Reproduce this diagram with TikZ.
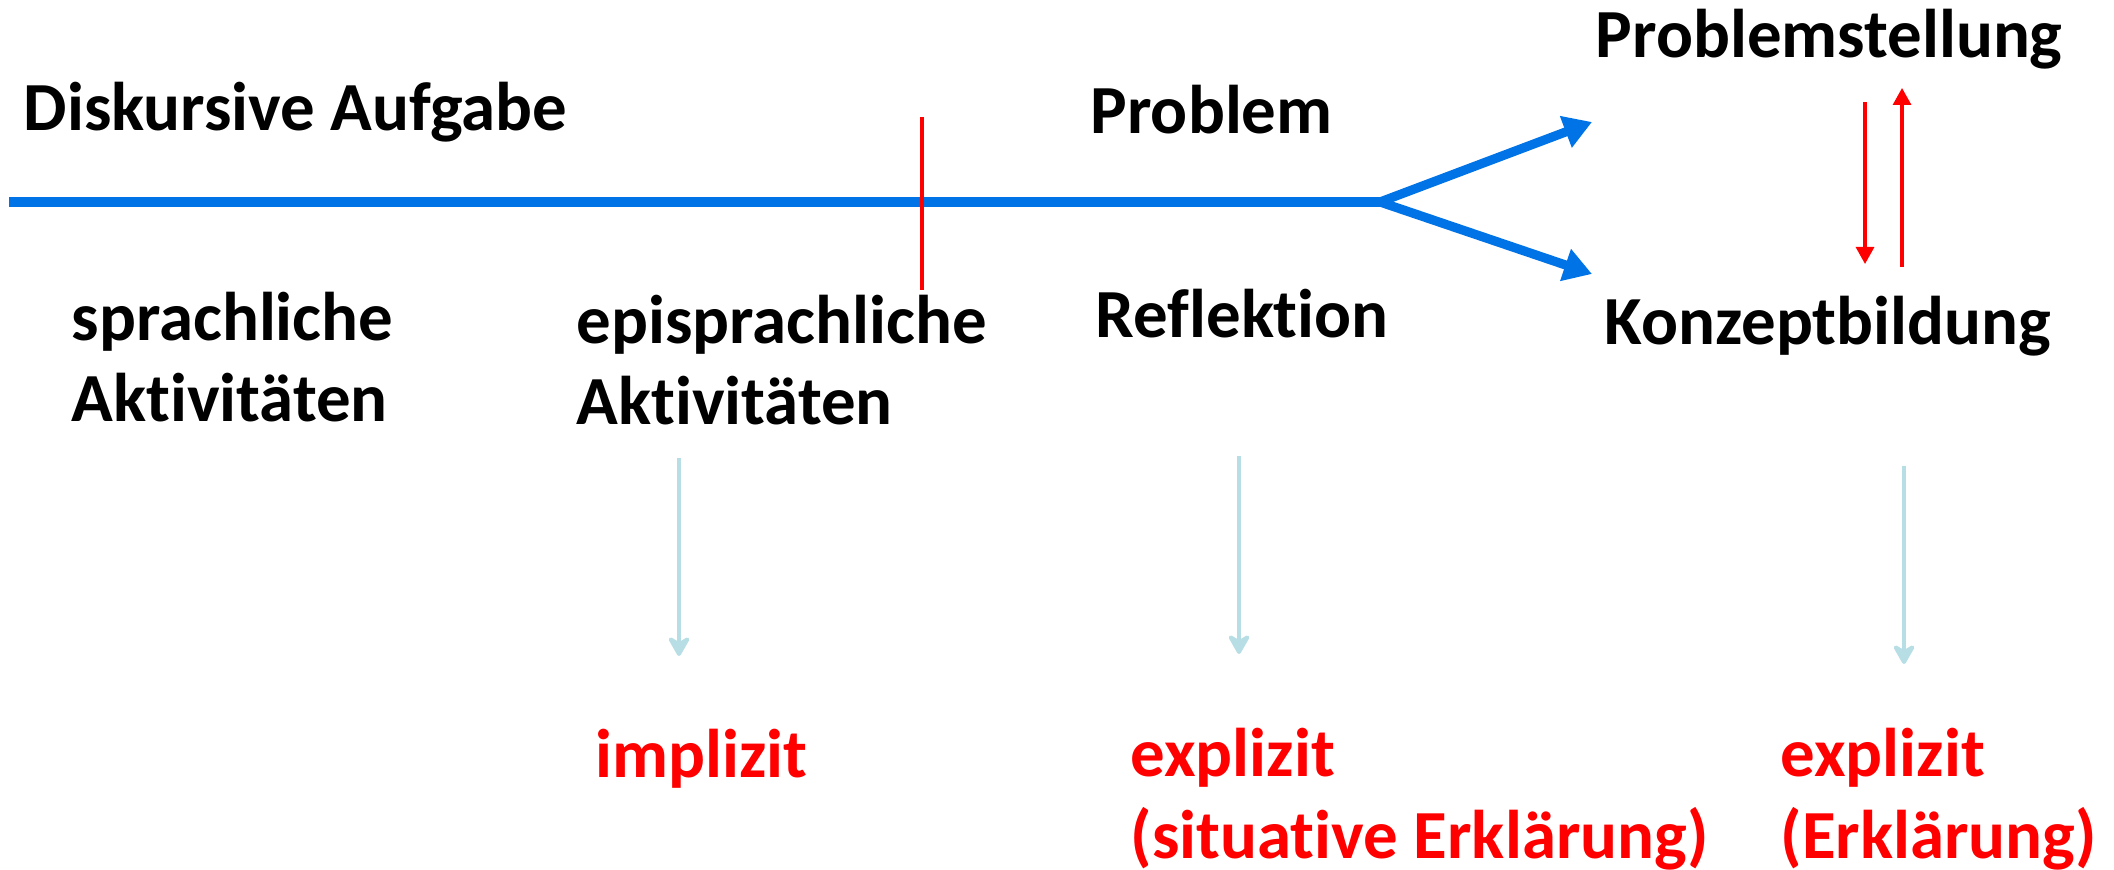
\documentclass[tikz,border=0pt]{standalone}
\usepackage{fontspec}
\setmainfont{Carlito}[Ligatures=NoCommon]
\usepackage{tikz}
\usetikzlibrary{arrows.meta,calc}
\definecolor{strahl}{RGB}{0,115,230}
\definecolor{hellblau}{RGB}{183,222,228}
\definecolor{rot}{RGB}{255,0,0}
\tikzset{
  txt/.style={anchor=base west,inner sep=0pt,align=left,
    font=\fontsize{19.6}{23.3}\selectfont\bfseries},
  rottxt/.style={txt,text=rot},
  strahlpfeil/.style={draw=strahl,line width=2.6pt,-{Triangle[length=0.28cm,width=0.32cm]}},
  rotpfeil/.style={draw=rot,line width=0.9pt,-{Triangle[length=0.17cm,width=0.18cm]}},
  folgepfeil/.style={draw=hellblau,line width=1.4pt,-{Stealth[length=0.24cm,width=0.27cm,inset=0.08cm,round]}}
}
\begin{document}
\begin{tikzpicture}
\useasboundingbox (0,0) rectangle (21.14,-8.70);
\node[txt] (aufgabe) at (0.23,-1.31) {Diskursive Aufgabe};
\node[txt] (problem) at (10.90,-1.34) {Problem};
\node[txt] (stellung) at (15.95,-0.58) {Problemstellung};
\node[txt] (bildung) at (16.04,-3.45) {Konzeptbildung};
\node[txt] (reflexion) at (10.95,-3.38) {Reflektion};
\node[txt] (sprach) at (0.71,-4.22) {sprachliche\\Aktivitäten};
\node[txt] (episprach) at (5.76,-4.25) {episprachliche\\Aktivitäten};
\node[rottxt] (implizit) at (5.95,-7.77) {implizit};
\node[rottxt] (situativ) at (11.30,-8.58) {explizit\\(situative Erklärung)};
\node[rottxt] (erklaerung) at (17.80,-8.58) {explizit\\(Erklärung)};

\coordinate (start) at (0.09,-2.02);
\coordinate (gabel) at (13.80,-2.02);
\coordinate (obenA) at (15.92,-1.22);
\coordinate (untenA) at (15.92,-2.74);
\draw[draw=strahl,line width=2.6pt] (start) -- (gabel);
\draw[strahlpfeil] (gabel) -- (obenA);
\draw[strahlpfeil] (gabel) -- (untenA);

\coordinate (grenzeO) at (9.22,-1.17);
\coordinate (grenzeU) at (9.22,-2.90);
\draw[draw=rot,line width=1pt] (grenzeO) -- (grenzeU);

\draw[rotpfeil] (18.65,-1.02) coordinate (abO) -- (18.65,-2.64) coordinate (abU);
\draw[rotpfeil] (19.02,-2.67) coordinate (aufU) -- (19.02,-0.88) coordinate (aufO);

\draw[folgepfeil] (6.79,-4.58) coordinate (f1) -- (6.79,-6.56) coordinate (g1);
\draw[folgepfeil] (12.39,-4.56) coordinate (f2) -- (12.39,-6.54) coordinate (g2);
\draw[folgepfeil] (19.04,-4.66) coordinate (f3) -- (19.04,-6.64) coordinate (g3);
\end{tikzpicture}
\end{document}
